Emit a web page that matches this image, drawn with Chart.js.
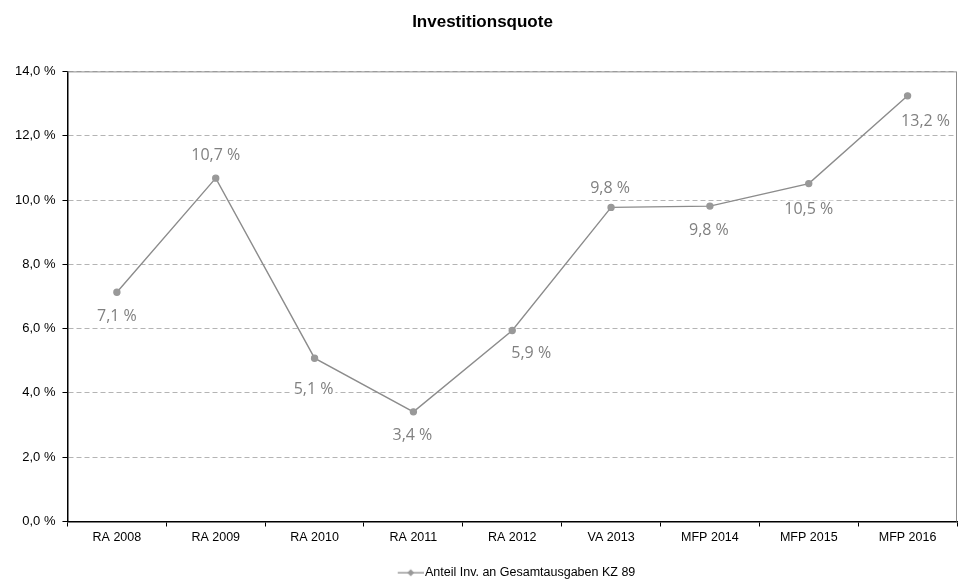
<!DOCTYPE html>
<html>
<head>
<meta charset="utf-8">
<script src="https://cdn.jsdelivr.net/npm/chart.js@4.4.0/dist/chart.umd.min.js"></script>
<style>
  body { margin: 0; background: #fff; }
  #wrap { width: 959px; height: 579px; }
</style>
</head>
<body>
<div id="wrap"><canvas id="mycanvas"></canvas></div>
<script>
var jahre = ['RA 2008', 'RA 2009', 'RA 2010', 'RA 2011', 'RA 2012', 'VA 2013', 'MFP 2014', 'MFP 2015', 'MFP 2016'];
var quote = [7.13, 10.68, 5.08, 3.41, 5.94, 9.77, 9.81, 10.51, 13.24];
var yTicks = [0, 2, 4, 6, 8, 10, 12, 14];

// label offsets relative to each point (dx, dy)
var labelShift = [[0, 24], [0, -23], [-1, 31], [-1, 24], [19, 23], [-1, -19], [-1, 24], [0, 26], [18, 26]];

var grau = '#8c8c8c';

function pct(v) {
    return v.toFixed(1).replace('.', ',') + ' %';
}

// legend marker: line with small diamond, padded on the left so the legend sits under the plot
var marker = document.createElement('canvas');
marker.width = 99; marker.height = 10;
var mc = marker.getContext('2d');
mc.strokeStyle = grau; mc.lineWidth = 1.3;
mc.beginPath(); mc.moveTo(73, 5); mc.lineTo(99, 5); mc.stroke();
mc.fillStyle = '#999';
mc.beginPath(); mc.moveTo(86, 1.5); mc.lineTo(89.5, 5); mc.lineTo(86, 8.5); mc.lineTo(82.5, 5); mc.closePath(); mc.fill();

var rahmen = {
    id: 'rahmen',
    beforeDatasetsDraw: function (chart) {
        var a = chart.chartArea, c = chart.ctx;
        c.save();
        c.strokeStyle = '#8c8c8c';
        c.lineWidth = 1;
        c.beginPath();
        c.moveTo(a.left, a.top + 0.5);
        c.lineTo(a.right - 0.5, a.top + 0.5);
        c.lineTo(a.right - 0.5, a.bottom);
        c.stroke();
        c.restore();
    }
};

var werte = {
    id: 'werte',
    afterDatasetsDraw: function (chart) {
        var c = chart.ctx;
        var meta = chart.getDatasetMeta(0);
        c.save();
        c.font = '16px "Open Sans"';
        c.textAlign = 'center';
        c.textBaseline = 'middle';
        meta.data.forEach(function (pt, i) {
            var t = pct(quote[i]);
            var x = pt.x + labelShift[i][0];
            var y = pt.y + labelShift[i][1];
            var w = c.measureText(t).width;
            c.fillStyle = '#fff';
            c.fillRect(x - w / 2 - 2, y - 9, w + 4, 18);
            c.fillStyle = '#808080';
            c.fillText(t, x, y);
        });
        c.restore();
    }
};

var ctx = document.getElementById('mycanvas');

var chartdata = {
    labels: jahre,
    datasets: [{
        label: 'Anteil Inv. an Gesamtausgaben KZ 89',
        data: quote,
        borderColor: grau,
        borderWidth: 1.4,
        backgroundColor: '#999',
        pointBackgroundColor: '#999',
        pointBorderColor: '#999',
        pointRadius: 3,
        pointStyle: 'circle',
        tension: 0
    }]
};

var lineGraph = new Chart(ctx, {
    type: 'line',
    data: chartdata,
    plugins: [rahmen, werte],
    options: {
        responsive: true,
        maintainAspectRatio: false,
        animation: false,
        layout: { autoPadding: false, padding: { left: 8, right: 2, top: 6, bottom: -10 } },
        plugins: {
            title: {
                display: true,
                text: 'Investitionsquote',
                color: '#000',
                font: { family: '"Liberation Sans", Arial', size: 17, weight: 'bold' },
                padding: { top: 6, bottom: 39 }
            },
            legend: {
                position: 'bottom',
                labels: {
                    usePointStyle: true,
                    pointStyle: marker,
                    pointStyleWidth: 89,
                    color: '#000',
                    font: { family: '"Liberation Sans", Arial', size: 12.5 },
                    padding: 1
                }
            },
            tooltip: { enabled: false }
        },
        scales: {
            x: {
                offset: true,
                afterFit: function (axis) {
                    axis.height = 44;
                },
                grid: {
                    offset: true,
                    drawOnChartArea: false,
                    drawTicks: true,
                    tickLength: 5,
                    tickColor: '#000'
                },
                border: { color: '#000', width: 1.5 },
                ticks: {
                    color: '#000',
                    padding: 4,
                    maxRotation: 0,
                    font: { family: '"Liberation Sans", Arial', size: 12.5 }
                }
            },
            y: {
                min: 0,
                max: 14,
                afterBuildTicks: function (axis) {
                    axis.ticks = yTicks.map(function (v) { return { value: v }; });
                },
                grid: {
                    color: '#b4b4b4',
                    tickColor: '#000',
                    tickLength: 5,
                    lineWidth: 1
                },
                border: { color: '#000', width: 1.5, dash: [5, 3] },
                ticks: {
                    color: '#000',
                    padding: 7,
                    font: { family: '"Liberation Sans", Arial', size: 13 },
                    callback: function (v) { return pct(v); }
                }
            }
        }
    }
});
</script>
</body>
</html>
